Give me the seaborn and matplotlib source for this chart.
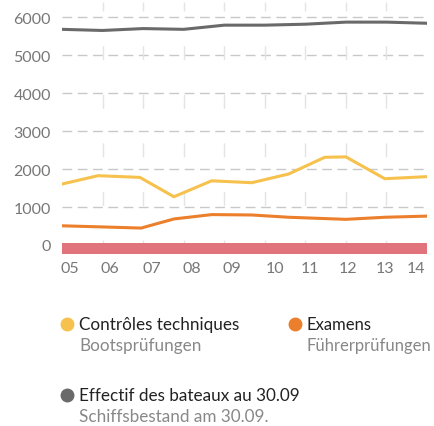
import matplotlib
matplotlib.use("Agg")
import matplotlib.pyplot as plt
import seaborn as sns
import pandas as pd
from matplotlib.lines import Line2D

# values (x in year-steps from 2005)
controles_x = [0, 0.89, 1.92, 2.76, 3.69, 4.68, 5.59, 6.48, 7.0, 7.96, 9]
controles_y = [1605, 1825, 1780, 1270, 1690, 1640, 1870, 2310, 2320, 1745, 1800]
examens_x = [0, 1, 1.95, 2.76, 3.69, 4.68, 5.59, 7.0, 7.96, 9]
examens_y = [505, 475, 445, 685, 800, 790, 730, 675, 730, 760]
bestand_x = [0, 1, 2, 3, 4, 5, 6, 7, 8, 9]
bestand_y = [5680, 5650, 5700, 5680, 5790, 5790, 5815, 5870, 5870, 5840]
year_labels = ["05", "06", "07", "08", "09", "10", "11", "12", "13", "14"]
label_pos = [0.2, 1.18, 2.22, 3.2, 4.2, 5.25, 6.11, 7.04, 7.96, 8.74]

c_yellow = "#f6c14c"
c_orange = "#ec7f2b"
c_dark = "#6a6a6a"
c_red = "#e0737b"

df = pd.concat([
    pd.DataFrame({"x": bestand_x, "y": bestand_y, "serie": "bestand"}),
    pd.DataFrame({"x": controles_x, "y": controles_y, "serie": "controles"}),
    pd.DataFrame({"x": examens_x, "y": examens_y, "serie": "examens"}),
])
palette = {"bestand": c_dark, "controles": c_yellow, "examens": c_orange}

sns.set_style("white")
plt.rcParams["font.family"] = ["Lato", "DejaVu Sans"]

fig = plt.figure(figsize=(4.35, 4.27), dpi=100)
W, H = 435, 427
ax = fig.add_axes([62 / W, 1 - 254.7 / H, (427 - 62) / W, (254.7 - 3) / H])

ax.set_xlim(0, 9)
ax.set_ylim(-230, 6400)

# grid
ax.set_yticks([0, 1000, 2000, 3000, 4000, 5000, 6000])
for v in [1000, 2000, 3000, 4000, 5000, 6000]:
    ax.axhline(v, color="#c8c8c8", lw=1, dashes=(7, 4), zorder=1)
for g in range(1, 9):
    ax.axvline(g, color="#e4e4e4", lw=1, dashes=(10, 25), zorder=1)

# red base band
ax.axhspan(-230, 50, color=c_red, lw=0, zorder=2)

sns.lineplot(data=df, x="x", y="y", hue="serie", palette=palette, ax=ax,
             lw=2.2, legend=False, zorder=3, estimator=None)

ax.set_xlim(0, 9)
ax.set_xticks(label_pos)
ax.set_xticklabels(year_labels)
ax.set_xlabel("")
ax.set_ylabel("")
ax.tick_params(axis="both", length=0, labelsize=11.5, labelcolor="#777777")
ax.tick_params(axis="x", pad=5)
ax.tick_params(axis="y", pad=8)
for s in ax.spines.values():
    s.set_visible(False)

# legend
def legend_item(px, py, color, title, sub, fs=12.3):
    fig.add_artist(Line2D([px / W], [1 - py / H], marker="o", markersize=9,
                          color=color, lw=0, transform=fig.transFigure))
    fig.text((px + 12) / W, 1 - py / H, title, fontsize=fs, color="#222222",
             va="center", ha="left")
    fig.text((px + 12) / W, 1 - (py + 21.5) / H, sub, fontsize=fs,
             color="#888888", va="center", ha="left")

legend_item(67, 325, c_yellow, "Contrôles techniques", "Bootsprüfungen")
legend_item(295, 325, c_orange, "Examens", "Führerprüfungen", fs=12)
legend_item(67, 396, c_dark, "Effectif des bateaux au 30.09", "Schiffsbestand am 30.09.")

fig.savefig("out.png", dpi=100)
